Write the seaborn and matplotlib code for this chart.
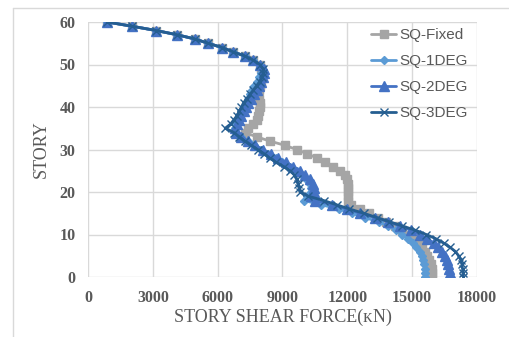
import numpy as np
import pandas as pd
import matplotlib
matplotlib.use("Agg")
import matplotlib.pyplot as plt
import seaborn as sns

stories = list(range(0, 61))

# values listed from story 0 up to story 60
sq_fixed = [15920, 15920, 15900, 15850, 15800, 15700, 15600, 15450, 15300, 15100,
            14850, 14550, 14200, 13800, 13400, 13000, 12600, 12150, 12050, 12050,
            12050, 12050, 12030, 11980, 11880, 11650, 11330, 10970, 10600, 10130,
            9650, 9100, 8400, 7800, 7250, 7400, 7650, 7800, 7850, 7900,
            7950, 7950, 7900, 7850, 7900, 7950, 8000, 8050, 8050, 8000,
            7950, 7650, 7250, 6700, 6200, 5550, 4950, 4120, 3150, 2040, 880]
sq_1deg = [15600, 15600, 15580, 15550, 15500, 15450, 15350, 15200, 15050, 14800,
           14550, 14250, 13900, 13450, 12800, 12200, 11600, 10800, 10000, 10150,
           10300, 10300, 10250, 10100, 9900, 9650, 9350, 9000, 8700, 8350,
           8000, 7700, 7400, 7100, 6850, 6800, 6850, 6950, 7000, 7100,
           7200, 7300, 7400, 7500, 7600, 7700, 7800, 7900, 8000, 8050,
           7950, 7650, 7250, 6700, 6200, 5550, 4950, 4120, 3150, 2040, 880]
sq_2deg = [16760, 16750, 16720, 16680, 16600, 16500, 16400, 16200, 16000, 15700,
           15350, 14950, 14450, 13900, 13300, 12600, 12000, 11300, 10500, 10300,
           10450, 10450, 10400, 10250, 10050, 9800, 9500, 9150, 8800, 8450,
           8100, 7750, 7400, 7100, 6850, 6800, 6900, 7000, 7100, 7200,
           7300, 7400, 7550, 7700, 7800, 7900, 8000, 8100, 8150, 8150,
           7950, 7650, 7250, 6700, 6200, 5550, 4950, 4120, 3150, 2040, 880]
sq_3deg = [17350, 17350, 17330, 17300, 17250, 17150, 17000, 16750, 16450, 16100,
           15650, 15150, 14550, 13950, 13350, 12750, 12100, 11500, 10900, 10200,
           9810, 9780, 9720, 9650, 9550, 9350, 9050, 8700, 8400, 8150,
           7850, 7550, 7250, 7000, 6750, 6350, 6600, 6750, 6900, 7000,
           7100, 7200, 7350, 7500, 7650, 7800, 7950, 8050, 8100, 8100,
           7950, 7650, 7250, 6700, 6200, 5550, 4950, 4120, 3150, 2040, 880]

series_names = ["SQ-Fixed", "SQ-1DEG", "SQ-2DEG", "SQ-3DEG"]
x_ticks = [0, 3000, 6000, 9000, 12000, 15000, 18000]
y_ticks = [0, 10, 20, 30, 40, 50, 60]

frames = []
for name, vals in zip(series_names, [sq_fixed, sq_1deg, sq_2deg, sq_3deg]):
    frames.append(pd.DataFrame({"force": vals, "story": stories, "series": name}))
df = pd.concat(frames, ignore_index=True)

sns.set_style("white")
plt.rcParams["font.family"] = ["Liberation Serif", "DejaVu Serif"]

palette = {"SQ-Fixed": "#A5A5A5", "SQ-1DEG": "#5B9BD5",
           "SQ-2DEG": "#4472C4", "SQ-3DEG": "#255E91"}
markers = {"SQ-Fixed": "s", "SQ-1DEG": "D", "SQ-2DEG": "^", "SQ-3DEG": "x"}
msize = {"SQ-Fixed": 6, "SQ-1DEG": 4.5, "SQ-2DEG": 6.5, "SQ-3DEG": 5.5}

fig = plt.figure(figsize=(5.10, 3.37), dpi=100)
ax = fig.add_axes([88/510, 1-277/337, (477-88)/510, (277-22)/337])

for name in series_names:
    sub = df[df["series"] == name]
    sns.lineplot(data=sub, x="force", y="story", sort=False, estimator=None,
                 orient="y", color=palette[name], marker=markers[name],
                 markersize=msize[name], markeredgecolor=palette[name],
                 markeredgewidth=1.0, linewidth=2.0, label=name, ax=ax)

ax.set_xlim(0, 18000)
ax.set_ylim(0, 60)
ax.set_xticks(x_ticks)
ax.set_yticks(y_ticks)
ax.grid(True, color="#D9D9D9", linewidth=1.0)
ax.set_axisbelow(True)
for s in ax.spines.values():
    s.set_visible(False)
ax.tick_params(axis="both", length=0, pad=9, labelsize=11.5, labelcolor="#595959")
for lab in ax.get_xticklabels() + ax.get_yticklabels():
    lab.set_fontweight("bold")

ax.set_xlabel("STORY SHEAR FORCE(\u1d0bN)", fontsize=13, color="#595959", labelpad=2)
ax.set_ylabel("STORY", fontsize=13, color="#595959", labelpad=7)

leg = ax.legend(loc="upper right", bbox_to_anchor=(1.012, 1.03), frameon=False,
                prop={"family": "Liberation Sans", "size": 11},
                handlelength=1.7, labelspacing=0.78, handletextpad=0.2)
for t in leg.get_texts():
    t.set_color("#595959")

# chart border
fig.add_artist(plt.Line2D([13/510, 13/510], [0, 1-8/337], color="#D9D9D9", linewidth=1.0))
fig.add_artist(plt.Line2D([13/510, 1], [1-8/337, 1-8/337], color="#D9D9D9", linewidth=1.0))

fig.savefig("out.png", dpi=100)
